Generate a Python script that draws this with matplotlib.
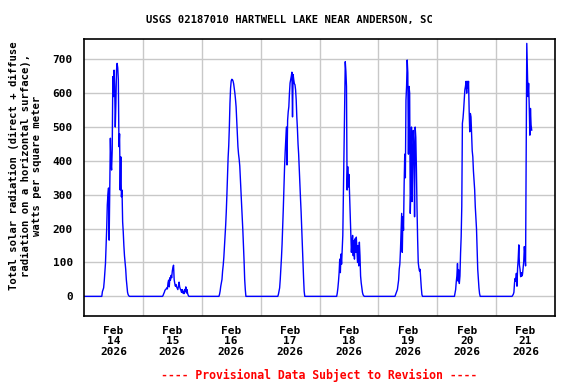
import numpy as np
import pandas as pd
import matplotlib
matplotlib.use("Agg")
import matplotlib.pyplot as plt
import matplotlib.dates as mdates

# ---- data (15-minute readings, W/m^2), daylight portion of each day ----
day_dates = ["2026-02-14", "2026-02-15", "2026-02-16", "2026-02-17",
             "2026-02-18", "2026-02-19", "2026-02-20", "2026-02-21"]
day_starts = ["07:15", "08:00", "07:00", "07:00", "07:00", "06:45", "07:00", "06:30"]

feb14 = [0, 14, 20, 25, 45, 70, 97, 150, 200, 270, 300, 320, 166, 330, 467, 393,
         373, 432, 649, 590, 668, 620, 500, 570, 668, 688, 675, 639, 442, 480, 314,
         412, 294, 314, 220, 190, 150, 120, 100, 80, 50, 30, 12, 5, 2, 0]
feb15 = [0, 3, 8, 12, 18, 20, 22, 25, 22, 40, 48, 28, 55, 48, 62, 55, 75, 85, 92,
         50, 38, 30, 35, 28, 24, 20, 30, 42, 28, 22, 18, 12, 20, 10, 15, 8, 20, 15,
         28, 10, 20, 8, 3, 0]
feb16 = [0, 6, 16, 30, 40, 50, 75, 92, 115, 145, 175, 210, 250, 300, 360, 410, 445,
         500, 570, 615, 636, 641, 640, 636, 628, 615, 600, 582, 560, 520, 480, 442,
         420, 405, 385, 345, 310, 270, 235, 195, 150, 105, 50, 20, 0]
feb17 = [0, 6, 15, 25, 50, 80, 115, 155, 205, 260, 320, 380, 425, 460, 500, 388,
         520, 545, 560, 600, 630, 640, 650, 662, 530, 655, 640, 628, 625, 610, 580,
         530, 495, 450, 420, 375, 330, 290, 250, 200, 145, 100, 55, 15, 0]
feb18 = [0, 10, 25, 45, 70, 110, 70, 125, 95, 135, 180, 300, 420, 560, 693, 665,
         620, 314, 383, 323, 360, 300, 240, 180, 130, 160, 180, 120, 165, 110, 170,
         130, 175, 140, 100, 150, 90, 160, 120, 60, 40, 25, 12, 5, 2, 0]
feb19 = [0, 5, 10, 15, 20, 35, 48, 80, 95, 135, 190, 245, 130, 235, 195, 330, 420,
         350, 580, 620, 698, 660, 420, 620, 600, 245, 320, 500, 280, 400, 490, 430,
         235, 500, 470, 380, 260, 170, 100, 85, 75, 80, 50, 25, 5, 0]
feb20 = [0, 10, 20, 43, 60, 97, 45, 78, 38, 60, 127, 176, 265, 511, 526, 550, 580,
         610, 620, 635, 600, 635, 615, 635, 550, 486, 540, 530, 482, 430, 412, 370,
         340, 315, 265, 235, 200, 140, 80, 50, 25, 8, 0]
feb21 = [0, 3, 6, 12, 40, 53, 45, 68, 30, 83, 110, 152, 93, 80, 58, 70, 60, 65, 85,
         102, 147, 122, 90, 427, 747, 673, 590, 629, 560, 476, 555, 506, 491]
day_values = [feb14, feb15, feb16, feb17, feb18, feb19, feb20, feb21]

y_ticks = [0, 100, 200, 300, 400, 500, 600, 700]
x_labels = ["Feb\n14\n2026", "Feb\n15\n2026", "Feb\n16\n2026", "Feb\n17\n2026",
            "Feb\n18\n2026", "Feb\n19\n2026", "Feb\n20\n2026", "Feb\n21\n2026"]

# ---- build series (nights read as 0) ----
t0 = pd.Timestamp("2026-02-14 00:00")
last_day = pd.Timestamp(day_dates[-1] + " " + day_starts[-1])
t_end = last_day + pd.Timedelta(minutes=15 * (len(feb21) - 1))
idx = pd.date_range(t0, t_end, freq="15min")
series = pd.Series(0.0, index=idx)
for d, s, vals in zip(day_dates, day_starts, day_values):
    st = pd.Timestamp(d + " " + s)
    ti = pd.date_range(st, periods=len(vals), freq="15min")
    series.loc[ti] = vals

# ---- figure ----
mono = "DejaVu Sans Mono"
fig = plt.figure(figsize=(5.76, 3.84), dpi=100)
ax = fig.add_axes([84 / 576, 1 - 316 / 384, (555 - 84) / 576, (316 - 39) / 384])

ax.plot(series.index, series.values, color="#0000FF", linewidth=1.0)

ax.set_xlim(pd.Timestamp("2026-02-14"), pd.Timestamp("2026-02-22"))
ax.set_ylim(-58, 760)

ax.set_yticks(y_ticks)
ax.set_yticklabels([str(v) for v in y_ticks], fontfamily=mono, fontweight="bold", fontsize=8)

major = pd.date_range("2026-02-15", "2026-02-21", freq="D")
minor = pd.date_range("2026-02-14 12:00", periods=8, freq="D")
ax.set_xticks(mdates.date2num(major))
ax.set_xticklabels([])
ax.set_xticks(mdates.date2num(minor), minor=True)
ax.set_xticklabels(x_labels, minor=True, fontfamily=mono, fontweight="bold",
                   fontsize=8, linespacing=1.05)

ax.tick_params(axis="both", which="both", length=0)
ax.tick_params(axis="y", pad=8)
ax.tick_params(axis="x", which="minor", pad=7)

ax.grid(True, which="major", color="#C8C8C8", linewidth=1.0)
ax.set_axisbelow(True)
for sp in ax.spines.values():
    sp.set_linewidth(1.2)
    sp.set_color("black")

fig.text(289 / 576, 1 - 20 / 384, "USGS 02187010 HARTWELL LAKE NEAR ANDERSON, SC",
         ha="center", va="center", fontfamily=mono, fontweight="bold", fontsize=7.6)
fig.text(25.5 / 576, 1 - 165.5 / 384,
         "Total solar radiation (direct + diffuse\nradiation on a horizontal surface),\nwatts per square meter",
         ha="center", va="center", rotation=90, fontfamily=mono, fontweight="bold",
         fontsize=7.6, linespacing=1.2)
fig.text(319 / 576, 1 - 375 / 384, "---- Provisional Data Subject to Revision ----",
         ha="center", va="center", color="#FF0000", fontfamily=mono, fontweight="bold",
         fontsize=8.3)

fig.savefig("out.png", dpi=100)
